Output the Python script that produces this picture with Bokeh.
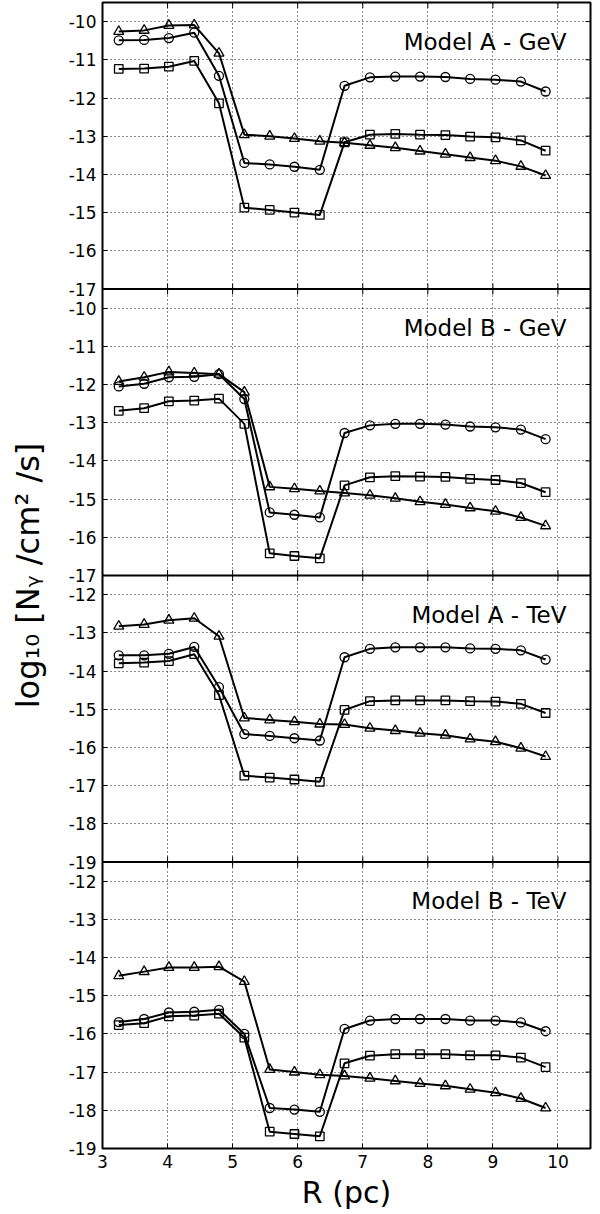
import math
from bokeh.plotting import figure
from bokeh.models import Range1d, FixedTicker, Span, Label
from bokeh.embed import file_html
from bokeh.resources import INLINE

# ---------------- data ----------------
r_pc = [3.25, 3.64, 4.02, 4.41, 4.79, 5.18, 5.57, 5.95, 6.34,
        6.72, 7.11, 7.50, 7.88, 8.27, 8.65, 9.04, 9.43, 9.81]

panel_titles = ["Model A - GeV", "Model B - GeV", "Model A - TeV", "Model B - TeV"]
panel_lo = [-17, -17, -19, -19]
panel_hi = [-9.5, -9.5, -11.5, -11.5]

a_gev_tri = [-10.26, -10.23, -10.10, -10.09, -10.83, -12.96, -13.00, -13.06, -13.13,
             -13.17, -13.24, -13.30, -13.39, -13.47, -13.56, -13.64, -13.79, -14.03]
a_gev_circ = [-10.49, -10.48, -10.43, -10.29, -11.42, -13.70, -13.74, -13.80, -13.88,
              -11.68, -11.46, -11.44, -11.44, -11.45, -11.50, -11.52, -11.57, -11.83]
a_gev_sq = [-11.24, -11.23, -11.18, -11.03, -12.14, -14.87, -14.93, -15.00, -15.06,
            -13.16, -12.96, -12.94, -12.96, -12.97, -13.01, -13.03, -13.11, -13.38]

b_gev_tri = [-11.92, -11.81, -11.67, -11.70, -11.73, -12.20, -14.68, -14.73, -14.79,
             -14.84, -14.90, -14.98, -15.07, -15.14, -15.23, -15.32, -15.48, -15.70]
b_gev_circ = [-12.05, -11.98, -11.81, -11.80, -11.73, -12.38, -15.35, -15.41, -15.48,
              -13.27, -13.07, -13.03, -13.03, -13.05, -13.10, -13.12, -13.18, -13.43]
b_gev_sq = [-12.69, -12.62, -12.44, -12.42, -12.37, -13.03, -16.42, -16.49, -16.55,
            -14.64, -14.43, -14.40, -14.41, -14.42, -14.47, -14.50, -14.58, -14.82]

a_tev_tri = [-12.83, -12.78, -12.67, -12.62, -13.09, -15.23, -15.28, -15.33, -15.39,
             -15.40, -15.50, -15.56, -15.63, -15.68, -15.78, -15.85, -16.02, -16.24]
a_tev_circ = [-13.59, -13.59, -13.55, -13.37, -14.42, -15.65, -15.70, -15.76, -15.82,
              -13.64, -13.42, -13.38, -13.38, -13.38, -13.41, -13.42, -13.46, -13.70]
a_tev_sq = [-13.80, -13.78, -13.74, -13.56, -14.63, -16.74, -16.79, -16.84, -16.90,
            -15.02, -14.79, -14.77, -14.77, -14.77, -14.79, -14.80, -14.86, -15.10]

b_tev_tri = [-14.48, -14.37, -14.26, -14.26, -14.24, -14.63, -16.93, -17.00, -17.07,
             -17.10, -17.16, -17.23, -17.30, -17.36, -17.45, -17.54, -17.69, -17.94]
b_tev_circ = [-15.69, -15.61, -15.44, -15.42, -15.37, -16.00, -17.94, -17.98, -18.04,
              -15.87, -15.65, -15.61, -15.61, -15.61, -15.65, -15.65, -15.70, -15.93]
b_tev_sq = [-15.77, -15.72, -15.54, -15.52, -15.47, -16.10, -18.56, -18.62, -18.68,
            -16.77, -16.57, -16.53, -16.53, -16.53, -16.56, -16.56, -16.62, -16.87]

x_ticks = [3, 4, 5, 6, 7, 8, 9, 10]

panel_series = [
    (a_gev_tri, a_gev_circ, a_gev_sq),
    (b_gev_tri, b_gev_circ, b_gev_sq),
    (a_tev_tri, a_tev_circ, a_tev_sq),
    (b_tev_tri, b_tev_circ, b_tev_sq),
]

# ---------------- figure ----------------
FONT = "DejaVu Sans"
N = len(panel_titles)
SPAN = 7.5
X0, X1 = 3, 10.5

p = figure(width=592, height=1212, x_range=Range1d(X0, X1),
           y_range=Range1d(0, N * SPAN), output_backend="svg",
           toolbar_location=None, min_border_left=102, min_border_right=2,
           min_border_top=2, min_border_bottom=60)
p.outline_line_color = "black"
p.outline_line_width = 2
p.background_fill_color = "white"
p.border_fill_color = "white"

# y tick positions per panel (in stacked layout coordinates) and labels
tick_pos = []
overrides = {}
for k in range(N):
    below = (N - 1 - k) * SPAN
    for v in range(math.ceil(panel_lo[k]), math.floor(panel_hi[k]) + 1):
        pos = below + (v - panel_lo[k])
        tick_pos.append(float(pos))
        overrides[float(pos)] = str(v)

yticker = FixedTicker(ticks=tick_pos)
xticker = FixedTicker(ticks=x_ticks)

# left axis
yax = p.yaxis[0]
yax.ticker = yticker
yax.major_label_overrides = overrides
yax.major_tick_in = 5
yax.major_tick_out = 0
yax.minor_tick_in = 0
yax.minor_tick_out = 0
yax.axis_line_color = None
yax.major_tick_line_color = "black"
yax.major_label_text_font = FONT
yax.major_label_text_font_size = "17px"
yax.major_label_text_color = "black"
yax.major_label_standoff = 6
yax.axis_label = "log\u2081\u2080 [N\u1d67 /cm\u00b2 /s]"
yax.axis_label_text_font = FONT
yax.axis_label_text_font_size = "32px"
yax.axis_label_text_font_style = "normal"
yax.axis_label_text_color = "black"
yax.axis_label_standoff = 19

# bottom axis
xax = p.xaxis[0]
xax.ticker = xticker
xax.major_tick_in = 5
xax.major_tick_out = 0
xax.minor_tick_in = 0
xax.minor_tick_out = 0
xax.axis_line_color = None
xax.major_tick_line_color = "black"
xax.major_label_text_font = FONT
xax.major_label_text_font_size = "17px"
xax.major_label_text_color = "black"
xax.major_label_standoff = 6
xax.axis_label = "R (pc)"
xax.axis_label_text_font = FONT
xax.axis_label_text_font_size = "30px"
xax.axis_label_text_font_style = "normal"
xax.axis_label_text_color = "black"
xax.axis_label_standoff = 4

# grids
p.xgrid.ticker = xticker
p.ygrid.ticker = yticker
for g in (p.xgrid[0], p.ygrid[0]):
    g.grid_line_color = "black"
    g.grid_line_dash = "1 3"
    g.grid_line_width = 1
    g.grid_line_alpha = 0.9

# panel separators
for k in range(1, N):
    p.add_layout(Span(location=k * SPAN, dimension="width",
                      line_color="black", line_width=2))

# inward ticks on separators, top edge and right edge (clipped to frame)
sep_x = []
sep_y = []
for k in range(1, N + 1):
    for xt in x_ticks:
        sep_x.append(xt)
        sep_y.append(k * SPAN)
p.scatter(sep_x, sep_y, marker="dash", angle=math.pi / 2, size=11,
          line_color="black", line_width=1)
p.scatter([X1] * len(tick_pos), tick_pos, marker="dash", size=10,
          line_color="black", line_width=1)

markers = [("triangle", 10), ("circle", 9), ("square", 8.5)]

for k in range(N):
    name = f"panel{k}"
    p.extra_y_ranges[name] = Range1d(panel_lo[k] - (N - 1 - k) * SPAN,
                                     panel_hi[k] + k * SPAN)
    for ys, (mk, sz) in zip(panel_series[k], markers):
        p.line(r_pc, ys, y_range_name=name, line_color="black", line_width=2)
        p.scatter(r_pc, ys, y_range_name=name, marker=mk, size=sz,
                  line_color="black", line_width=1.3, fill_alpha=0)
    p.add_layout(Label(x=10.13, y=panel_hi[k] - 1.03, y_range_name=name,
                       text=panel_titles[k], text_align="right",
                       text_baseline="alphabetic", text_font=FONT,
                       text_font_size="23px", text_color="black"))

open("out.html", "w").write(file_html(p, INLINE))
